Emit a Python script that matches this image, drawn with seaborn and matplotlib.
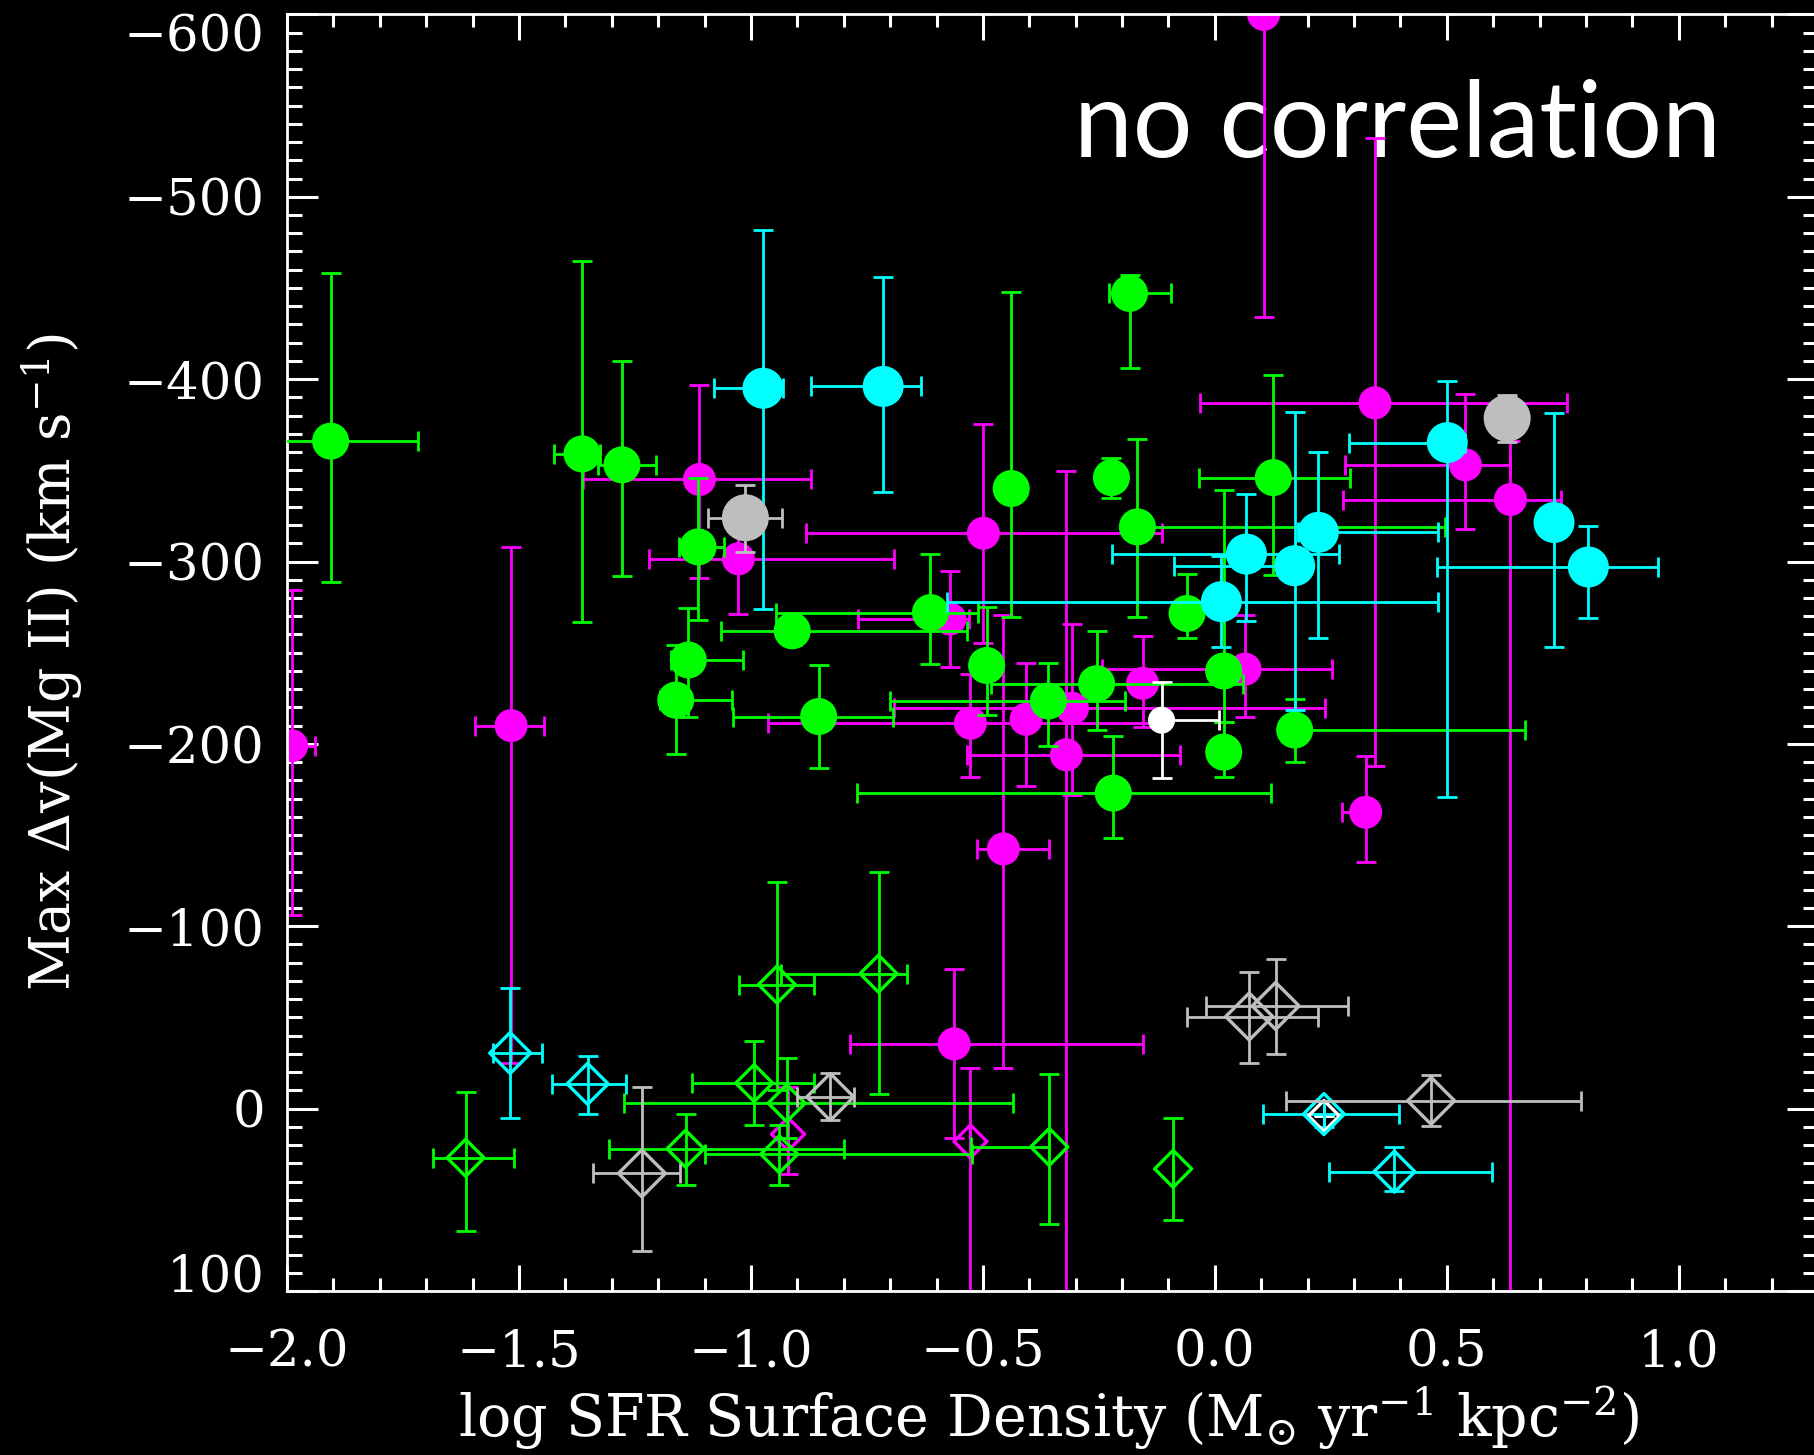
import numpy as np
import pandas as pd
import matplotlib
matplotlib.use("Agg")
import matplotlib.pyplot as plt
from matplotlib.path import Path
from matplotlib.ticker import MultipleLocator, FuncFormatter
import seaborn as sns

# ---------------------------------------------------------------------------
# Max Mg II outflow velocity versus SFR surface density.
# Each sample: centre (x, y) and error-bar end points (lo / hi) in data units.
# Velocity "lo" is the more negative (faster outflow) end.
# ---------------------------------------------------------------------------

# green, filled (detections)
green_x    = [-1.906, -1.364, -1.278, -1.114, -1.135, -1.162, -0.911, -0.854, -0.613, -0.492, -0.439,
              -0.359, -0.255, -0.223, -0.184, -0.167, -0.219, -0.060, 0.019, 0.019, 0.126, 0.172]
green_y    = [-366, -359, -353, -308, -246, -224, -262, -215, -272, -243, -340,
              -223.5, -233, -346, -447, -319, -173, -271.5, -240, -195.5, -346, -207.6]
green_xlo  = [-2.094, -1.424, -1.330, -1.156, -1.173, -1.197, -1.065, -1.039, -0.947, -0.492, -0.439,
              -0.701, -0.482, -0.223, -0.229, -0.167, -0.771, -0.060, 0.019, 0.019, -0.034, 0.172]
green_xhi  = [-1.718, -1.326, -1.205, -1.058, -1.017, -1.041, -0.535, -0.694, -0.511, -0.492, -0.439,
              -0.194, 0.060, -0.223, -0.094, 0.496, 0.121, -0.060, 0.019, 0.019, 0.291, 0.668]
green_ylo  = [-458, -465, -410, -346, -274.5, -254.4, -270, -243, -304, -275.2, -448,
              -244.2, -262.1, -356.6, -457, -367, -204.5, -293.2, -339, -212, -402, -224.5]
green_yhi  = [-289, -267, -292, -268, -215, -194.5, -254, -187, -244, -215.8, -269.7,
              -198.8, -207.5, -334.7, -406, -269.4, -148.2, -258, -212, -181.7, -292.6, -190.2]

# green, open diamonds
gdia_x   = [-1.615, -1.141, -0.993, -0.944, -0.923, -0.939, -0.725, -0.357, -0.090]
gdia_y   = [27, 22, -14, -68, -3, 25, -74, 21, 33]
gdia_xlo = [-1.685, -1.305, -1.128, -1.026, -1.273, -1.100, -0.935, -0.525, -0.090]
gdia_xhi = [-1.510, -0.800, -0.865, -0.865, -0.436, -0.523, -0.663, -0.357, -0.090]
gdia_ylo = [-9, 3, -37, -124, -28, 9, -130, -19, 5]
gdia_yhi = [67, 42, 9, -10, 16, 42, -8, 63, 61]

# magenta, filled
mag_x   = [-1.990, -1.517, -1.111, -1.027, -0.571, -0.499, -0.527, -0.456, -0.407, -0.307,
           -0.320, -0.156, 0.065, 0.105, 0.345, 0.325, 0.540, 0.637, -0.562]
mag_y   = [-199, -210, -345, -301.5, -268.5, -315.5, -211.3, -142.4, -213.5, -219.5,
           -194, -233.2, -241, -600, -387, -162.5, -353, -334, -35.5]
mag_xlo = [-2.040, -1.594, -1.361, -1.219, -0.769, -0.881, -0.963, -0.512, -0.407, -0.692,
           -0.535, -0.156, -0.244, 0.105, -0.031, 0.275, 0.280, 0.277, -0.786]
mag_xhi = [-1.940, -1.447, -0.870, -0.692, -0.530, -0.115, -0.113, -0.357, -0.407, 0.238,
           -0.075, -0.156, 0.252, 0.105, 0.760, 0.325, 0.636, 0.746, -0.155]
mag_ylo = [-284.5, -308, -397, -320, -295, -375.5, -238.3, -270.7, -244.2, -265.7,
           -349.6, -259.2, -270.7, -700, -532, -193.4, -392, -366, -76.3]
mag_yhi = [-106, -25, -291, -271, -242, -255.3, -181.7, -22.3, -177.1, -172,
           100, -209.4, -214.9, -434, -188, -135, -317.8, 100, 16]

# magenta, open diamonds
mdia_x   = [-0.920, -0.527]
mdia_y   = [14, 18]
mdia_ylo = [-12, -22.3]
mdia_yhi = [36, 100]

# cyan, filled
cyan_x   = [-0.974, -0.715, 0.014, 0.068, 0.172, 0.223, 0.501, 0.731, 0.805]
cyan_y   = [-395, -396, -278, -304.1, -297.7, -316, -365.2, -321.4, -297]
cyan_xlo = [-1.079, -0.870, -0.578, -0.222, -0.088, 0.180, 0.290, 0.731, 0.478]
cyan_xhi = [-0.930, -0.634, 0.481, 0.268, 0.172, 0.481, 0.540, 0.731, 0.956]
cyan_ylo = [-482, -456, -303, -337, -382, -360, -399, -381.7, -319.6]
cyan_yhi = [-274, -338, -253.3, -267.5, -218.6, -257.9, -171, -253.2, -269]

# cyan, open diamonds
cdia_x   = [-1.519, -1.352, 0.235, 0.387]
cdia_y   = [-30.5, -13.6, 3, 34.6]
cdia_xlo = [-1.555, -1.428, 0.103, 0.246]
cdia_xhi = [-1.450, -1.269, 0.396, 0.597]
cdia_ylo = [-66, -29, -4, 21]
cdia_yhi = [5, 3, 10, 45]

# grey, filled
grey_x   = [-1.012, 0.630]
grey_y   = [-324, -378.6]
grey_xlo = [-1.093, 0.630]
grey_xhi = [-0.934, 0.630]
grey_ylo = [-342, -391.4]
grey_yhi = [-305, -365.8]

# grey, open diamonds
gydia_x   = [-1.235, -0.829, 0.074, 0.131, 0.466]
gydia_y   = [35.5, -6.4, -50.5, -56.3, -4.3]
gydia_xlo = [-1.340, -0.900, -0.061, -0.020, 0.154]
gydia_xhi = [-1.152, -0.778, 0.223, 0.286, 0.790]
gydia_ylo = [-12, -19.4, -74.8, -82, -18.4]
gydia_yhi = [78, 6.2, -24.9, -29.7, 9.7]

# white
white_x   = [-0.115]
white_y   = [-213]
white_xlo = [-0.115]
white_xhi = [0.009]
white_ylo = [-233.8]
white_yhi = [-181.1]
wdia_x = [0.235]
wdia_y = [4]

x_ticks = [-2.0, -1.5, -1.0, -0.5, 0.0, 0.5, 1.0]
y_ticks = [-600, -500, -400, -300, -200, -100, 0, 100]

GREEN, MAGENTA, CYAN, GREY, WHITE = "#00ff00", "#ff00ff", "#00ffff", "#bebebe", "#ffffff"
PX = 100 / 72.0            # pixels per point at dpi=100
ELW = 2.0                  # error-bar line width (pt)
CAP = 7.0                  # cap half-length (pt)
DIAMOND = Path([(0, 1), (1, 0), (0, -1), (-1, 0), (0, 1)],
               [Path.MOVETO, Path.LINETO, Path.LINETO, Path.LINETO, Path.CLOSEPOLY])

sns.set_theme(style="ticks", rc={
    "axes.facecolor": "black", "figure.facecolor": "black", "savefig.facecolor": "black",
    "axes.edgecolor": "white", "text.color": "white", "xtick.color": "white",
    "ytick.color": "white", "axes.labelcolor": "white",
})
plt.rcParams["font.family"] = ["DejaVu Serif", "DejaVu Sans"]
plt.rcParams["mathtext.fontset"] = "dejavuserif"
plt.rcParams["axes.unicode_minus"] = True

fig = plt.figure(figsize=(18.15, 14.55), dpi=100)
ax = fig.add_axes([287 / 1815, 1 - 1291 / 1455, (1818 - 287) / 1815, (1291 - 14.4) / 1455])


def draw(x, y, xlo, xhi, ylo, yhi, color, size_px, hollow, z):
    x = np.asarray(x, float); y = np.asarray(y, float)
    xe = [x - np.asarray(xlo, float), np.asarray(xhi, float) - x]
    ye = [y - np.asarray(ylo, float), np.asarray(yhi, float) - y]
    ax.errorbar(x, y, xerr=xe, yerr=ye, fmt="none", ecolor=color, elinewidth=ELW,
                capsize=CAP, capthick=ELW, zorder=z)
    df = pd.DataFrame({"x": x, "y": y})
    s = (size_px / PX) ** 2
    if hollow:
        sns.scatterplot(data=df, x="x", y="y", ax=ax, marker=DIAMOND, s=s, color=color,
                        facecolors="none", edgecolors=color, linewidth=2.4, zorder=z + 0.5,
                        legend=False)
    else:
        sns.scatterplot(data=df, x="x", y="y", ax=ax, marker="o", s=s, color=color,
                        edgecolor="none", linewidth=0, zorder=z + 0.5, legend=False)


draw(mag_x, mag_y, mag_xlo, mag_xhi, mag_ylo, mag_yhi, MAGENTA, 33, False, 2)
draw(mdia_x, mdia_y, mdia_x, mdia_x, mdia_ylo, mdia_yhi, MAGENTA, 33, True, 2)
draw(green_x, green_y, green_xlo, green_xhi, green_ylo, green_yhi, GREEN, 37, False, 3)
draw(gdia_x, gdia_y, gdia_xlo, gdia_xhi, gdia_ylo, gdia_yhi, GREEN, 37, True, 3)
draw(wdia_x, wdia_y, wdia_x, wdia_x, wdia_y, wdia_y, WHITE, 31, True, 3.6)
draw(cyan_x, cyan_y, cyan_xlo, cyan_xhi, cyan_ylo, cyan_yhi, CYAN, 41, False, 4)
draw(cdia_x, cdia_y, cdia_xlo, cdia_xhi, cdia_ylo, cdia_yhi, CYAN, 41, True, 4)
draw(grey_x, grey_y, grey_xlo, grey_xhi, grey_ylo, grey_yhi, GREY, 47, False, 5)
draw(gydia_x, gydia_y, gydia_xlo, gydia_xhi, gydia_ylo, gydia_yhi, GREY, 47, True, 5)
draw(white_x, white_y, white_xlo, white_xhi, white_ylo, white_yhi, WHITE, 27, False, 6)

ax.set_xlim(-2.0, 1.3)
ax.set_ylim(100, -600)
ax.set_xlabel(""); ax.set_ylabel("")
ax.set_xticks(x_ticks)
ax.set_yticks(y_ticks)
ax.xaxis.set_minor_locator(MultipleLocator(0.1))
ax.yaxis.set_minor_locator(MultipleLocator(10))


def fmt_x(v, pos):
    return f"{v:.1f}".replace("-", "\u2212")


def fmt_y(v, pos):
    if round(v) in (y_ticks[0], y_ticks[-1]):
        return ""
    return f"{v:.0f}".replace("-", "\u2212")


ax.xaxis.set_major_formatter(FuncFormatter(fmt_x))
ax.yaxis.set_major_formatter(FuncFormatter(fmt_y))
ax.tick_params(which="both", direction="in", top=True, right=True, width=2.2, colors="white")
ax.tick_params(axis="y", which="major", length=22, pad=16, labelsize=37)
ax.tick_params(axis="y", which="minor", length=11)
ax.tick_params(axis="x", which="major", length=18.4, pad=27, labelsize=37)
ax.tick_params(axis="x", which="minor", length=9.2)
for sp in ax.spines.values():
    sp.set_color("white")
    sp.set_linewidth(2.0)

# end labels of the velocity axis sit just inside the frame
for v, off in ((y_ticks[0], 10), (y_ticks[-1], -10)):
    ax.annotate(f"{v:d}".replace("-", "\u2212"), xy=(0, v + off),
                xycoords=("axes fraction", "data"), xytext=(-16, 0),
                textcoords="offset points", ha="right", va="center_baseline",
                fontsize=37, color="white", annotation_clip=False)

fig.text(1049 / 1815, 1 - 1418 / 1455,
         r"log SFR Surface Density (M$_{\odot}$ yr$^{-1}$ kpc$^{-2}$)",
         ha="center", va="center", fontsize=41, color="white")
fig.text(52 / 1815, 1 - 662 / 1455, r"Max $\Delta$v(Mg II) (km s$^{-1}$)",
         rotation=90, ha="center", va="center", fontsize=40, color="white")

ax.text(1.09, -522, "no correlation", family=["Lato", "DejaVu Sans"], fontsize=76,
        color="white", ha="right", va="baseline", zorder=1)

fig.savefig("out.png", dpi=100, facecolor="black")
